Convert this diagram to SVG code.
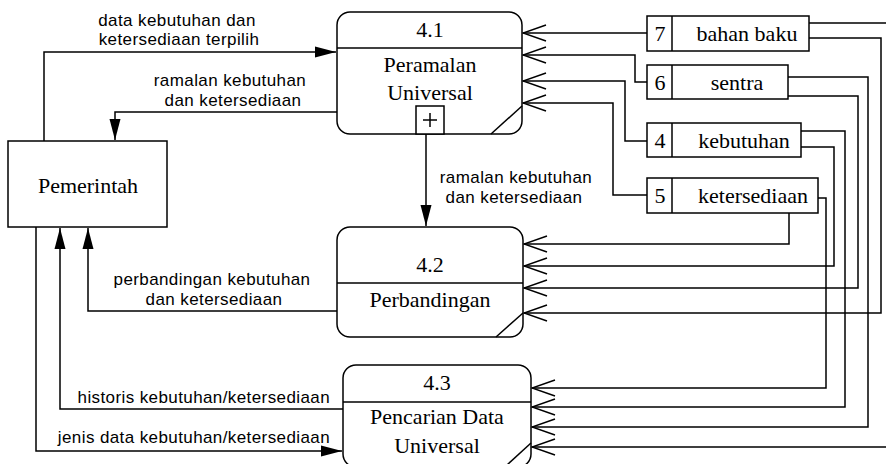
<svg xmlns="http://www.w3.org/2000/svg" width="886" height="464" viewBox="0 0 886 464">
<style>
.b{fill:#fff;stroke:#000;stroke-width:1.5}
.l{fill:none;stroke:#000;stroke-width:1.5}
.t{font-family:"Liberation Serif","Times New Roman",serif;font-size:22px;fill:#000;text-anchor:middle}
.s{font-family:"Liberation Sans",Arial,sans-serif;font-size:17px;letter-spacing:0.4px;fill:#000}
.m{text-anchor:middle}
.e{text-anchor:end}
</style>
<defs>
<marker id="fa" markerWidth="22" markerHeight="12" refX="21" refY="6" orient="auto" markerUnits="userSpaceOnUse">
<path d="M0,0.5 L21,6 L0,11.5 Z" fill="#000"/>
</marker>
<marker id="oa" markerWidth="26" markerHeight="18" refX="24" refY="9" orient="auto" markerUnits="userSpaceOnUse">
<path d="M1,1 L24,9 L1,17" fill="none" stroke="#000" stroke-width="1.5"/>
</marker>
</defs>
<g id="connectors">
<path class="l" d="M44,141 V52 H336" marker-end="url(#fa)"/>
<path class="l" d="M337,112 H115 V140" marker-end="url(#fa)"/>
<path class="l" d="M426,134 V226" marker-end="url(#fa)"/>
<path class="l" d="M337,311 H88 V228" marker-end="url(#fa)"/>
<path class="l" d="M343,409 H60 V228" marker-end="url(#fa)"/>
<path class="l" d="M36,227 V451 H342" marker-end="url(#fa)"/>
<path class="l" d="M647,33 H523" marker-end="url(#oa)"/>
<path class="l" d="M647,82 H635 V55 H523" marker-end="url(#oa)"/>
<path class="l" d="M647,141 H625 V81 H523" marker-end="url(#oa)"/>
<path class="l" d="M647,195 H613 V103 H523" marker-end="url(#oa)"/>
<path class="l" d="M809,23 H892 V447 H532" marker-end="url(#oa)"/>
<path class="l" d="M809,38 H881 V313 H524" marker-end="url(#oa)"/>
<path class="l" d="M788,77 H868 V427 H532" marker-end="url(#oa)"/>
<path class="l" d="M788,96 H858 V288 H524" marker-end="url(#oa)"/>
<path class="l" d="M801,131 H845 V407 H532" marker-end="url(#oa)"/>
<path class="l" d="M801,147 H834 V266 H524" marker-end="url(#oa)"/>
<path class="l" d="M818,198 H826 V388 H532" marker-end="url(#oa)"/>
<path class="l" d="M789,213 V244 H524" marker-end="url(#oa)"/>
<text class="s m" x="177" y="26">data kebutuhan dan</text>
<text class="s m" x="179" y="45">ketersediaan terpilih</text>
<text class="s m" x="230" y="86">ramalan kebutuhan</text>
<text class="s m" x="233" y="106">dan ketersediaan</text>
<text class="s m" x="516" y="183">ramalan kebutuhan</text>
<text class="s m" x="514" y="203">dan ketersediaan</text>
<text class="s m" x="212" y="285">perbandingan kebutuhan</text>
<text class="s m" x="214" y="305">dan ketersediaan</text>
<text class="s e" x="330" y="403">historis kebutuhan/ketersediaan</text>
<text class="s e" x="330" y="443">jenis data kebutuhan/ketersediaan</text>
</g>
<g id="pemerintah">
<rect class="b" x="8" y="141" width="159" height="86"/>
<text class="t" x="88" y="193">Pemerintah</text>
</g>
<g id="p41">
<rect class="b" x="337" y="12" width="185" height="122" rx="13"/>
<line class="l" x1="337" y1="48" x2="522" y2="48"/>
<line class="l" x1="491" y1="134" x2="522" y2="106"/>
<rect class="b" x="416" y="106" width="28" height="28"/>
<line class="l" x1="423" y1="120" x2="437" y2="120"/>
<line class="l" x1="430" y1="113" x2="430" y2="127"/>
<text class="t" x="430" y="37">4.1</text>
<text class="t" x="430" y="72">Peramalan</text>
<text class="t" x="430" y="100">Universal</text>
</g>
<g id="p42">
<rect class="b" x="337" y="227" width="186" height="110" rx="13"/>
<line class="l" x1="337" y1="283" x2="523" y2="283"/>
<line class="l" x1="496" y1="337" x2="523" y2="313"/>
<text class="t" x="430" y="272">4.2</text>
<text class="t" x="430" y="307">Perbandingan</text>
</g>
<g id="p43">
<rect class="b" x="343" y="365" width="188" height="102" rx="13"/>
<line class="l" x1="343" y1="402" x2="531" y2="402"/>
<line class="l" x1="507" y1="465" x2="531" y2="443"/>
<text class="t" x="437" y="390">4.3</text>
<text class="t" x="437" y="424">Pencarian Data</text>
<text class="t" x="437" y="453">Universal</text>
</g>
<g id="ds7">
<rect class="b" x="647" y="16" width="162" height="35"/>
<line class="l" x1="672" y1="16" x2="672" y2="51"/>
<text class="t" x="660" y="41">7</text>
<text class="t" x="747" y="41">bahan baku</text>
</g>
<g id="ds6">
<rect class="b" x="647" y="65" width="141" height="34"/>
<line class="l" x1="672" y1="65" x2="672" y2="99"/>
<text class="t" x="660" y="90">6</text>
<text class="t" x="737" y="90">sentra</text>
</g>
<g id="ds4">
<rect class="b" x="647" y="123" width="154" height="34"/>
<line class="l" x1="672" y1="123" x2="672" y2="157"/>
<text class="t" x="660" y="148">4</text>
<text class="t" x="744" y="148">kebutuhan</text>
</g>
<g id="ds5">
<rect class="b" x="647" y="178" width="171" height="35"/>
<line class="l" x1="672" y1="178" x2="672" y2="213"/>
<text class="t" x="660" y="203">5</text>
<text class="t" x="753" y="203">ketersediaan</text>
</g>
</svg>
